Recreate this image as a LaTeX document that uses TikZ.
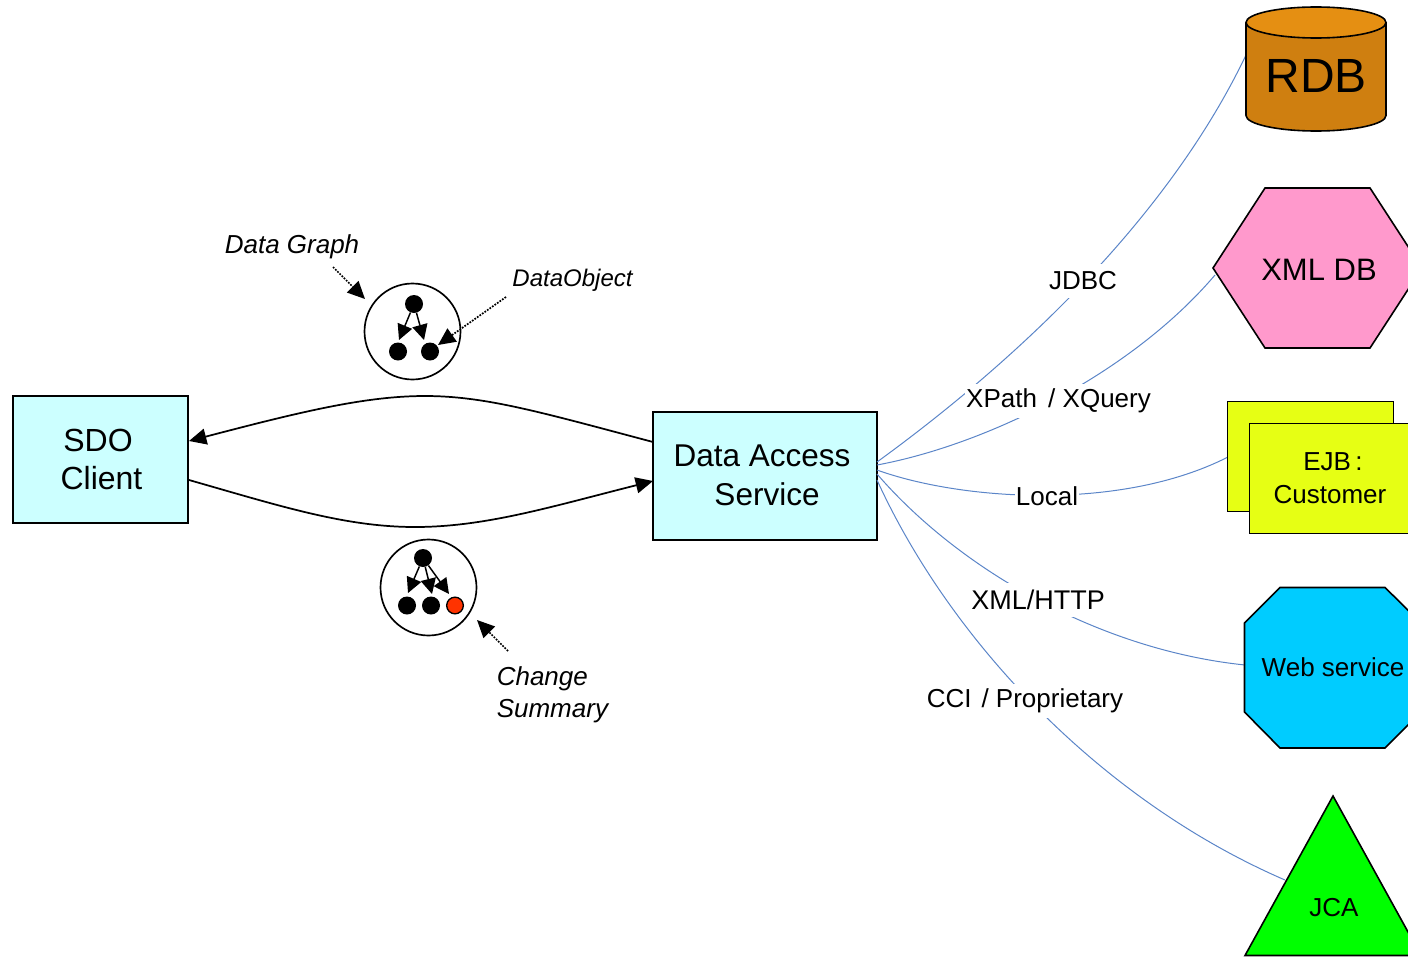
\documentclass[tikz,border=0pt]{standalone}
\usepackage{fontspec}
\setmainfont{Liberation Sans}
\usetikzlibrary{arrows.meta}
\newcommand{\fpx}[1]{\fontsize{\the\dimexpr #1pt*3/4\relax}{#1pt}\selectfont}
\definecolor{paleCyan}{HTML}{CCFFFF}
\definecolor{linkBlue}{HTML}{5B85C8}
\definecolor{rdbSide}{HTML}{CF7F10}
\definecolor{rdbTop}{HTML}{E58F12}
\definecolor{xmlPink}{HTML}{FF99CC}
\definecolor{ejbYellow}{HTML}{E6FF14}
\definecolor{wsBlue}{HTML}{00CCFF}
\definecolor{jcaGreen}{HTML}{00FF00}
\definecolor{chgRed}{HTML}{FF3300}
\tikzset{
  bigbox/.style={draw=black,line width=1.2pt,fill=paleCyan,inner sep=0pt},
  flowarrow/.style={line width=1.3pt,-{Triangle[length=13pt,width=12pt]}},
  smallarrow/.style={line width=1.1pt,-{Triangle[length=11.5pt,width=11.5pt]}},
  notearrow/.style={line width=1.3pt,densely dotted,-{Triangle[length=13pt,width=12pt]}},
  link/.style={draw=linkBlue,line width=.75pt},
  shapeline/.style={draw=black,line width=1.2pt},
  txt/.style={inner sep=0pt,text=black},
  lbl/.style={inner xsep=1pt,inner ysep=0pt,fill=white,minimum height=25pt,text=black},
  bigcirc/.style={circle,draw=black,line width=1.25pt,fill=white,minimum size=72pt,inner sep=0pt},
  dot/.style={circle,fill=black,minimum size=13.5pt,inner sep=0pt},
  reddot/.style={circle,fill=chgRed,draw=black,line width=1pt,minimum size=12.5pt,inner sep=0pt},
}
\begin{document}
\begin{tikzpicture}[x=0.75pt,y=-0.75pt]
\useasboundingbox (0,0) rectangle (1408,956);
% boxes
\node[bigbox,minimum width=131.25pt,minimum height=95.25pt] (sdo) at (100.5,459.5) {};
\node[bigbox,minimum width=168pt,minimum height=96pt] (das) at (765,476) {};
\node[txt] (sdoA) at (98,440) {\fpx{32}SDO};
\node[txt] (sdoB) at (101.5,478) {\fpx{32}Client};
\node[txt] (dasA) at (762,456) {\fpx{31.5}Data Access};
\node[txt] (dasB) at (767,494) {\fpx{31.5}Service};
% curve ends
\coordinate (dasOut) at (653,442);
\coordinate (sdoIn) at (189,441);
\coordinate (sdoOut) at (189,480);
\coordinate (dasIn) at (653,481);
\draw[flowarrow] (dasOut) .. controls (540,412) and (485,396) .. (425,396) .. controls (365,396) and (300,412) .. (sdoIn);
\draw[flowarrow] (sdoOut) .. controls (280,506) and (345,527) .. (415,527) .. controls (485,527) and (550,507) .. (dasIn);
% circles
\node[bigcirc] (g1) at (412.5,331.5) {};
\node[dot] (a1) at (414,304) {};
\node[dot] (a2) at (398,351.5) {};
\node[dot] (a3) at (430,351.5) {};
\coordinate (a2tip) at (399,340);
\coordinate (a3tip) at (424,340);
\draw[smallarrow] (a1) -- (a2tip);
\draw[smallarrow] (a1) -- (a3tip);
\node[bigcirc] (g2) at (428.5,587.5) {};
\node[dot] (b1) at (423,558) {};
\node[dot] (b2) at (407,605.5) {};
\node[dot] (b3) at (431,605.5) {};
\node[reddot] (b4) at (455,605.5) {};
\coordinate (b2tip) at (408,593);
\coordinate (b3tip) at (432,594);
\coordinate (b4tip) at (449,594);
\draw[smallarrow] (b1) -- (b2tip);
\draw[smallarrow] (b1) -- (b3tip);
\draw[smallarrow] (b1) -- (b4tip);
% notes
\node[txt,font=\itshape] (nGraph) at (292,247) {\fpx{26}Data Graph};
\node[txt,font=\itshape] (nObj) at (572.5,280) {\fpx{24}DataObject};
\node[txt,font=\itshape,anchor=west] (nCh) at (496.5,679) {\fpx{26}Change};
\node[txt,font=\itshape,anchor=west] (nSum) at (496.5,711) {\fpx{26}Summary};
\coordinate (gFrom) at (333,267);
\coordinate (gTo) at (365,299);
\coordinate (oFrom) at (506,297);
\coordinate (oTo) at (438,345);
\coordinate (cFrom) at (508,651);
\coordinate (cTo) at (477,620);
\draw[notearrow] (gFrom) -- (gTo);
\draw[notearrow] (oFrom) -- (oTo);
\draw[notearrow] (cFrom) -- (cTo);
% connector ends
\coordinate (s1) at (877,462);
\coordinate (s2) at (877,465);
\coordinate (s3) at (877,470);
\coordinate (s4) at (877,474);
\coordinate (s5) at (877,480);
\coordinate (e1) at (1246,55);
\coordinate (e2) at (1215,275);
\coordinate (e3) at (1228,457);
\coordinate (e4) at (1245,665);
\coordinate (e5) at (1285,880);
\draw[link] (s1) .. controls (990,380) and (1160,235) .. (e1);
\draw[link] (s2) .. controls (985,445) and (1130,375) .. (e2);
\draw[link] (s3) .. controls (960,500) and (1120,512) .. (e3);
\draw[link] (s4) .. controls (960,570) and (1100,650) .. (e4);
\draw[link] (s5) .. controls (950,640) and (1100,800) .. (e5);
% RDB
\fill[rdbSide] (1246,22.5) -- (1246,115.5) arc[start angle=180,end angle=360,x radius=70,y radius=-15.5] -- (1386,22.5) -- cycle;
\draw[shapeline] (1246,22.5) -- (1246,115.5) arc[start angle=180,end angle=360,x radius=70,y radius=-15.5] -- (1386,22.5);
\draw[shapeline,fill=rdbTop] (1316,22.5) ellipse[x radius=70,y radius=15.5];
\node[txt] (rdb) at (1316,76) {\fpx{48}RDB};
% XML DB
\draw[shapeline,fill=xmlPink] (1213,268) -- (1265,188) -- (1370,188) -- (1422,268) -- (1370,348) -- (1265,348) -- cycle;
\node[txt] (xml) at (1319,270) {\fpx{31}XML DB};
% EJB
\draw[draw=black,line width=.9pt,fill=ejbYellow] (1227.5,401.5) rectangle (1393.5,511.5);
\draw[draw=black,line width=.9pt,fill=ejbYellow] (1249.5,423.5) rectangle (1415.5,533.5);
\node[txt] (ejbA) at (1333,462) {\fpx{26}EJB\,:};
\node[txt] (ejbB) at (1330,495) {\fpx{26}Customer};
% Web service
\draw[shapeline,fill=wsBlue] (1244.5,623) -- (1280,587.5) -- (1385,587.5) -- (1421,623) -- (1421,712) -- (1385,748) -- (1280,748) -- (1244.5,712) -- cycle;
\node[txt] (ws) at (1333,667) {\fpx{26}Web service};
% JCA
\draw[shapeline,fill=jcaGreen] (1333,796) -- (1421,955.5) -- (1245,955.5) -- cycle;
\node[txt] (jca) at (1334,908) {\fpx{26}JCA};
% labels
\node[lbl] (l1) at (1083,281) {\fpx{26}JDBC};
\node[lbl] (l2) at (1058.5,401) {\fpx{26}XPath\hspace{3pt} / XQuery};
\node[lbl] (l3) at (1047,496) {\fpx{26}Local};
\node[lbl] (l4) at (1038,600) {\fpx{27}XML/HTTP};
\node[lbl] (l5) at (1025,701) {\fpx{26}CCI\hspace{2pt} / Proprietary};
\end{tikzpicture}
\end{document}
